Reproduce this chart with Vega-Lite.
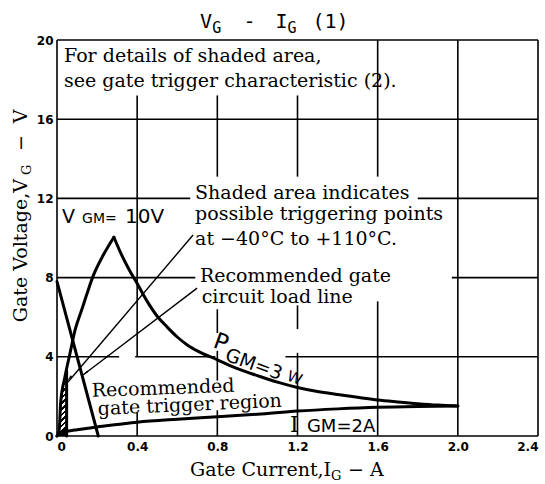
{
  "$schema": "https://vega.github.io/schema/vega-lite/v6.json",
  "width": 481,
  "height": 396,
  "autosize": {"type": "none"},
  "padding": {"left": 57, "top": 40, "right": 7, "bottom": 48},
  "background": "white",
  "data": {"values": [{}]},
  "config": {
    "view": {"stroke": null},
    "text": {"font": "DejaVu Serif", "fontSize": 19, "align": "left", "baseline": "alphabetic", "color": "black"},
    "axis": {"labelFont": "DejaVu Sans", "labelFontWeight": "bold", "labelFontSize": 12, "labelColor": "black", "domain": false, "ticks": false, "grid": false, "title": null}
  },
  "datasets": {
    "grid": [
      {"x": 0, "x2": 2.4, "y": 20, "y2": 20},
      {"x": 0, "x2": 2.4, "y": 16, "y2": 16},
      {"x": 0, "x2": 0.665, "y": 12, "y2": 12},
      {"x": 1.8, "x2": 2.4, "y": 12, "y2": 12},
      {"x": 0, "x2": 0.69, "y": 8, "y2": 8},
      {"x": 1.97, "x2": 2.4, "y": 8, "y2": 8},
      {"x": 0, "x2": 0.31, "y": 4, "y2": 4},
      {"x": 0.39, "x2": 0.79, "y": 4, "y2": 4},
      {"x": 1.14, "x2": 2.4, "y": 4, "y2": 4},
      {"x": 0, "x2": 2.4, "y": 0, "y2": 0},
      {"x": 0, "x2": 0, "y": 0, "y2": 20},
      {"x": 0.4, "x2": 0.4, "y": 0, "y2": 1.2},
      {"x": 0.4, "x2": 0.4, "y": 4, "y2": 17.2},
      {"x": 0.8, "x2": 0.8, "y": 0, "y2": 1.3},
      {"x": 0.8, "x2": 0.8, "y": 2.8, "y2": 4.3},
      {"x": 0.8, "x2": 0.8, "y": 5.2, "y2": 6.4},
      {"x": 0.8, "x2": 0.8, "y": 13.1, "y2": 17.2},
      {"x": 1.2, "x2": 1.2, "y": 0, "y2": 4.2},
      {"x": 1.2, "x2": 1.2, "y": 5.4, "y2": 6.6},
      {"x": 1.2, "x2": 1.2, "y": 13.1, "y2": 17.2},
      {"x": 1.6, "x2": 1.6, "y": 0, "y2": 6.8},
      {"x": 1.6, "x2": 1.6, "y": 13.1, "y2": 20},
      {"x": 2.0, "x2": 2.0, "y": 0, "y2": 20},
      {"x": 2.4, "x2": 2.4, "y": 0, "y2": 20}
    ],
    "curves": [
      {"series": "vgm", "I": 0, "V": 0},
      {"series": "vgm", "I": 0.011, "V": 0.3},
      {"series": "vgm", "I": 0.018, "V": 1.65},
      {"series": "vgm", "I": 0.04, "V": 3.0},
      {"series": "vgm", "I": 0.065, "V": 4.18},
      {"series": "vgm", "I": 0.09, "V": 5.35},
      {"series": "vgm", "I": 0.123, "V": 6.36},
      {"series": "vgm", "I": 0.15, "V": 7.2},
      {"series": "vgm", "I": 0.181, "V": 8.1},
      {"series": "vgm", "I": 0.231, "V": 9.14},
      {"series": "vgm", "I": 0.284, "V": 10.04},
      {"series": "pgm", "I": 0.284, "V": 10.04},
      {"series": "pgm", "I": 0.32, "V": 9.2},
      {"series": "pgm", "I": 0.36, "V": 8.4},
      {"series": "pgm", "I": 0.4, "V": 7.7},
      {"series": "pgm", "I": 0.45, "V": 6.8},
      {"series": "pgm", "I": 0.5, "V": 6.05},
      {"series": "pgm", "I": 0.55, "V": 5.5},
      {"series": "pgm", "I": 0.6, "V": 5.0},
      {"series": "pgm", "I": 0.65, "V": 4.6},
      {"series": "pgm", "I": 0.7, "V": 4.3},
      {"series": "pgm", "I": 0.8, "V": 3.85},
      {"series": "pgm", "I": 0.9, "V": 3.4},
      {"series": "pgm", "I": 1.0, "V": 3.05},
      {"series": "pgm", "I": 1.1, "V": 2.72},
      {"series": "pgm", "I": 1.2, "V": 2.45},
      {"series": "pgm", "I": 1.3, "V": 2.25},
      {"series": "pgm", "I": 1.4, "V": 2.1},
      {"series": "pgm", "I": 1.5, "V": 1.96},
      {"series": "pgm", "I": 1.6, "V": 1.82},
      {"series": "pgm", "I": 1.7, "V": 1.72},
      {"series": "pgm", "I": 1.8, "V": 1.63},
      {"series": "pgm", "I": 1.9, "V": 1.56},
      {"series": "pgm", "I": 2.0, "V": 1.52},
      {"series": "igm", "I": 0, "V": 0},
      {"series": "igm", "I": 0.01, "V": 0.13},
      {"series": "igm", "I": 0.03, "V": 0.2},
      {"series": "igm", "I": 0.05, "V": 0.24},
      {"series": "igm", "I": 0.1, "V": 0.32},
      {"series": "igm", "I": 0.2, "V": 0.46},
      {"series": "igm", "I": 0.3, "V": 0.58},
      {"series": "igm", "I": 0.4, "V": 0.7},
      {"series": "igm", "I": 0.6, "V": 0.85},
      {"series": "igm", "I": 0.8, "V": 0.97},
      {"series": "igm", "I": 1.0, "V": 1.1},
      {"series": "igm", "I": 1.2, "V": 1.26},
      {"series": "igm", "I": 1.4, "V": 1.37},
      {"series": "igm", "I": 1.6, "V": 1.45},
      {"series": "igm", "I": 1.8, "V": 1.49},
      {"series": "igm", "I": 2.0, "V": 1.51},
      {"series": "load", "I": 0, "V": 7.8},
      {"series": "load", "I": 0.206, "V": 0},
      {"series": "edge", "I": 0.048, "V": 0},
      {"series": "edge", "I": 0.048, "V": 3.3}
    ],
    "shade": [
      {"I": 0, "V": 0},
      {"I": 0.011, "V": 0.3},
      {"I": 0.018, "V": 1.65},
      {"I": 0.04, "V": 3.0},
      {"I": 0.048, "V": 3.3}
    ],
    "pointers": [
      {"series": "p1", "I": 0.679, "V": 10.15},
      {"series": "p1", "I": 0.055, "V": 2.73},
      {"series": "p2", "I": 0.699, "V": 7.47},
      {"series": "p2", "I": 0.13, "V": 3.08}
    ]
  },
  "layer": [
    {
      "data": {"name": "grid"},
      "mark": {"type": "rule", "color": "black", "strokeWidth": 1.6},
      "encoding": {
        "x": {"field": "x", "type": "quantitative", "scale": {"domain": [0, 2.4], "nice": false, "zero": false},
              "axis": {"orient": "bottom", "values": [0, 0.4, 0.8, 1.2, 1.6, 2.0, 2.4], "labelExpr": "datum.value == 0 ? '0' : format(datum.value, '.1f')", "labelPadding": 5}},
        "x2": {"field": "x2"},
        "y": {"field": "y", "type": "quantitative", "scale": {"domain": [0, 20], "nice": false, "zero": false},
              "axis": {"orient": "left", "values": [0, 4, 8, 12, 16, 20], "format": "d", "labelPadding": 4}},
        "y2": {"field": "y2"}
      }
    },
    {
      "data": {"name": "shade"},
      "mark": {"type": "area", "stroke": null, "fill": {"gradient": "linear", "x1": 0, "y1": 0, "x2": 0.15, "y2": 1, "stops": [
        {"offset": 0, "color": "white"}, {"offset": 0.045, "color": "white"}, {"offset": 0.045, "color": "black"}, {"offset": 0.0833, "color": "black"},
        {"offset": 0.0833, "color": "white"}, {"offset": 0.128, "color": "white"}, {"offset": 0.128, "color": "black"}, {"offset": 0.1667, "color": "black"},
        {"offset": 0.1667, "color": "white"}, {"offset": 0.212, "color": "white"}, {"offset": 0.212, "color": "black"}, {"offset": 0.25, "color": "black"},
        {"offset": 0.25, "color": "white"}, {"offset": 0.295, "color": "white"}, {"offset": 0.295, "color": "black"}, {"offset": 0.3333, "color": "black"},
        {"offset": 0.3333, "color": "white"}, {"offset": 0.378, "color": "white"}, {"offset": 0.378, "color": "black"}, {"offset": 0.4167, "color": "black"},
        {"offset": 0.4167, "color": "white"}, {"offset": 0.462, "color": "white"}, {"offset": 0.462, "color": "black"}, {"offset": 0.5, "color": "black"},
        {"offset": 0.5, "color": "white"}, {"offset": 0.545, "color": "white"}, {"offset": 0.545, "color": "black"}, {"offset": 0.5833, "color": "black"},
        {"offset": 0.5833, "color": "white"}, {"offset": 0.628, "color": "white"}, {"offset": 0.628, "color": "black"}, {"offset": 0.6667, "color": "black"},
        {"offset": 0.6667, "color": "white"}, {"offset": 0.712, "color": "white"}, {"offset": 0.712, "color": "black"}, {"offset": 0.75, "color": "black"},
        {"offset": 0.75, "color": "white"}, {"offset": 0.795, "color": "white"}, {"offset": 0.795, "color": "black"}, {"offset": 0.8333, "color": "black"},
        {"offset": 0.8333, "color": "white"}, {"offset": 0.878, "color": "white"}, {"offset": 0.878, "color": "black"}, {"offset": 0.9167, "color": "black"},
        {"offset": 0.9167, "color": "white"}, {"offset": 0.962, "color": "white"}, {"offset": 0.962, "color": "black"}, {"offset": 1, "color": "black"}
      ]}},
      "encoding": {
        "x": {"field": "I", "type": "quantitative"},
        "y": {"field": "V", "type": "quantitative"},
        "y2": {"datum": 0}
      }
    },
    {
      "data": {"name": "curves"},
      "mark": {"type": "line", "color": "black", "strokeWidth": 3, "interpolate": "monotone", "strokeCap": "round"},
      "encoding": {
        "x": {"field": "I", "type": "quantitative"},
        "y": {"field": "V", "type": "quantitative"},
        "detail": {"field": "series"},
        "order": {"field": "V", "type": "quantitative", "sort": "ascending"}
      }
    },
    {
      "data": {"name": "pointers"},
      "mark": {"type": "line", "color": "black", "strokeWidth": 1.4},
      "encoding": {
        "x": {"field": "I", "type": "quantitative"},
        "y": {"field": "V", "type": "quantitative"},
        "detail": {"field": "series"}
      }
    },
    {
      "mark": {"type": "point", "shape": "wedge", "filled": true, "color": "black", "opacity": 1, "size": 60, "angle": 220},
      "encoding": {"x": {"datum": 0.065, "type": "quantitative"}, "y": {"datum": 2.95, "type": "quantitative"}}
    },
    {
      "mark": {"type": "point", "shape": "wedge", "filled": true, "color": "black", "opacity": 1, "size": 60, "angle": 233},
      "encoding": {"x": {"datum": 0.145, "type": "quantitative"}, "y": {"datum": 3.2, "type": "quantitative"}}
    },
    {
      "mark": {"type": "point", "shape": "wedge", "filled": true, "color": "black", "opacity": 1, "size": 50, "angle": 233},
      "encoding": {"x": {"datum": 0.25, "type": "quantitative"}, "y": {"datum": 4.0, "type": "quantitative"}}
    },
    {"mark": {"type": "text", "font": "DejaVu Serif", "fontSize": 19, "text": "For details of shaded area,"}, "encoding": {"x": {"datum": 0.035, "type": "quantitative"}, "y": {"datum": 18.89, "type": "quantitative"}}},
    {"mark": {"type": "text", "font": "DejaVu Serif", "fontSize": 19, "text": "see gate trigger characteristic (2)."}, "encoding": {"x": {"datum": 0.035, "type": "quantitative"}, "y": {"datum": 17.63, "type": "quantitative"}}},
    {"mark": {"type": "text", "font": "DejaVu Serif", "fontSize": 19, "text": "Shaded area indicates"}, "encoding": {"x": {"datum": 0.689, "type": "quantitative"}, "y": {"datum": 11.97, "type": "quantitative"}}},
    {"mark": {"type": "text", "font": "DejaVu Serif", "fontSize": 19, "text": "possible triggering points"}, "encoding": {"x": {"datum": 0.689, "type": "quantitative"}, "y": {"datum": 10.91, "type": "quantitative"}}},
    {"mark": {"type": "text", "font": "DejaVu Serif", "fontSize": 19, "text": "at −40°C to +110°C."}, "encoding": {"x": {"datum": 0.689, "type": "quantitative"}, "y": {"datum": 9.65, "type": "quantitative"}}},
    {"mark": {"type": "text", "font": "DejaVu Serif", "fontSize": 19, "text": "Recommended gate"}, "encoding": {"x": {"datum": 0.713, "type": "quantitative"}, "y": {"datum": 7.79, "type": "quantitative"}}},
    {"mark": {"type": "text", "font": "DejaVu Serif", "fontSize": 19, "text": "circuit load line"}, "encoding": {"x": {"datum": 0.722, "type": "quantitative"}, "y": {"datum": 6.7, "type": "quantitative"}}},
    {"mark": {"type": "text", "text": "V", "font": "DejaVu Sans", "fontSize": 19}, "encoding": {"x": {"datum": 0.025, "type": "quantitative"}, "y": {"datum": 10.74, "type": "quantitative"}}},
    {"mark": {"type": "text", "text": "GM=", "font": "DejaVu Sans", "fontSize": 14}, "encoding": {"x": {"datum": 0.125, "type": "quantitative"}, "y": {"datum": 10.74, "type": "quantitative"}}},
    {"mark": {"type": "text", "text": "10V", "font": "DejaVu Sans", "fontSize": 20}, "encoding": {"x": {"datum": 0.339, "type": "quantitative"}, "y": {"datum": 10.74, "type": "quantitative"}}},
    {"mark": {"type": "text", "text": "P", "font": "DejaVu Sans", "fontSize": 23, "angle": 20}, "encoding": {"x": {"datum": 0.773, "type": "quantitative"}, "y": {"datum": 4.49, "type": "quantitative"}}},
    {"mark": {"type": "text", "text": "GM=3", "font": "DejaVu Sans", "fontSize": 19, "angle": 20}, "encoding": {"x": {"datum": 0.833, "type": "quantitative"}, "y": {"datum": 3.84, "type": "quantitative"}}},
    {"mark": {"type": "text", "text": "W", "font": "DejaVu Sans", "fontSize": 15, "angle": 20}, "encoding": {"x": {"datum": 1.143, "type": "quantitative"}, "y": {"datum": 2.83, "type": "quantitative"}}},
    {"mark": {"type": "text", "font": "DejaVu Serif", "fontSize": 19, "text": "Recommended", "angle": -2}, "encoding": {"x": {"datum": 0.175, "type": "quantitative"}, "y": {"datum": 1.98, "type": "quantitative"}}},
    {"mark": {"type": "text", "font": "DejaVu Serif", "fontSize": 19, "text": "gate trigger region", "angle": -2.6}, "encoding": {"x": {"datum": 0.205, "type": "quantitative"}, "y": {"datum": 1.06, "type": "quantitative"}}},
    {"mark": {"type": "text", "font": "DejaVu Serif", "text": "I", "fontSize": 22}, "encoding": {"x": {"datum": 1.163, "type": "quantitative"}, "y": {"datum": 0.22, "type": "quantitative"}}},
    {"mark": {"type": "text", "text": "GM=2A", "font": "DejaVu Sans", "fontSize": 18}, "encoding": {"x": {"datum": 1.247, "type": "quantitative"}, "y": {"datum": 0.22, "type": "quantitative"}}},
    {"mark": {"type": "text", "text": "V", "font": "DejaVu Sans Mono", "fontSize": 20}, "encoding": {"x": {"datum": 0.713, "type": "quantitative"}, "y": {"datum": 20.61, "type": "quantitative"}}},
    {"mark": {"type": "text", "text": "G", "font": "DejaVu Sans Mono", "fontSize": 15}, "encoding": {"x": {"datum": 0.775, "type": "quantitative"}, "y": {"datum": 20.35, "type": "quantitative"}}},
    {"mark": {"type": "text", "text": "-", "font": "DejaVu Sans Mono", "fontSize": 20}, "encoding": {"x": {"datum": 0.93, "type": "quantitative"}, "y": {"datum": 20.61, "type": "quantitative"}}},
    {"mark": {"type": "text", "text": "I", "font": "DejaVu Sans Mono", "fontSize": 20}, "encoding": {"x": {"datum": 1.09, "type": "quantitative"}, "y": {"datum": 20.61, "type": "quantitative"}}},
    {"mark": {"type": "text", "text": "G", "font": "DejaVu Sans Mono", "fontSize": 15}, "encoding": {"x": {"datum": 1.15, "type": "quantitative"}, "y": {"datum": 20.35, "type": "quantitative"}}},
    {"mark": {"type": "text", "text": "(1)", "font": "DejaVu Sans Mono", "fontSize": 20}, "encoding": {"x": {"datum": 1.275, "type": "quantitative"}, "y": {"datum": 20.61, "type": "quantitative"}}},
    {"mark": {"type": "text", "font": "DejaVu Serif", "fontSize": 19, "text": "Gate Current,I"}, "encoding": {"x": {"datum": 0.664, "type": "quantitative"}, "y": {"datum": -2.02, "type": "quantitative"}}},
    {"mark": {"type": "text", "font": "DejaVu Serif", "text": "G", "fontSize": 13}, "encoding": {"x": {"datum": 1.367, "type": "quantitative"}, "y": {"datum": -2.22, "type": "quantitative"}}},
    {"mark": {"type": "text", "font": "DejaVu Serif", "fontSize": 19, "text": "− A"}, "encoding": {"x": {"datum": 1.452, "type": "quantitative"}, "y": {"datum": -2.02, "type": "quantitative"}}},
    {"mark": {"type": "text", "font": "DejaVu Serif", "fontSize": 19, "text": "Gate Voltage,V", "angle": 270}, "encoding": {"x": {"datum": -0.15, "type": "quantitative"}, "y": {"datum": 5.75, "type": "quantitative"}}},
    {"mark": {"type": "text", "font": "DejaVu Serif", "text": "G", "fontSize": 13, "angle": 270}, "encoding": {"x": {"datum": -0.13, "type": "quantitative"}, "y": {"datum": 13.18, "type": "quantitative"}}},
    {"mark": {"type": "text", "font": "DejaVu Serif", "fontSize": 19, "text": "−", "angle": 270, "align": "center"}, "encoding": {"x": {"datum": -0.15, "type": "quantitative"}, "y": {"datum": 14.8, "type": "quantitative"}}},
    {"mark": {"type": "text", "font": "DejaVu Serif", "fontSize": 19, "text": "V", "angle": 270}, "encoding": {"x": {"datum": -0.15, "type": "quantitative"}, "y": {"datum": 15.8, "type": "quantitative"}}}
  ]
}
